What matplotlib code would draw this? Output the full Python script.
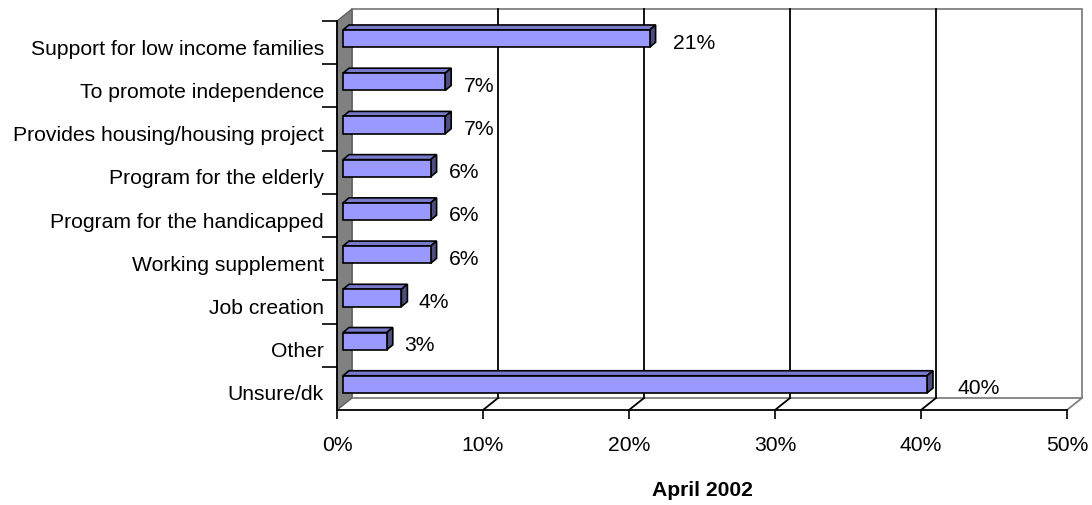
import matplotlib
matplotlib.use("Agg")
import matplotlib.pyplot as plt
from matplotlib.patches import Polygon, Rectangle
from matplotlib.transforms import ScaledTranslation, IdentityTransform

# data, top to bottom as in the chart
categories = ["Support for low income families", "To promote independence",
              "Provides housing/housing project", "Program for the elderly",
              "Program for the handicapped", "Working supplement",
              "Job creation", "Other", "Unsure/dk"]
values = [21, 7, 7, 6, 6, 6, 4, 3, 40]
xticks = [0, 10, 20, 30, 40, 50]
xlabel = "April 2002"

plt.rcParams['font.family'] = ['Liberation Sans', 'DejaVu Sans']
FS = 15.2

fig = plt.figure(figsize=(10.92, 5.06), dpi=100)
ax = fig.add_axes([337/1092, 95/506, 730/1092, 389/506])
n = len(categories)
ypos = list(range(n - 1, -1, -1))
ax.set_xlim(0, 50)
ax.set_ylim(-0.5, n - 0.5)

def shift(dx, dy):
    # offset in pixels (dpi 100) for the 3d depth
    return ax.transData + ScaledTranslation(dx/100, dy/100, fig.dpi_scale_trans)

def disp(tr, x, y, dx=0, dy=0):
    p = tr.transform((x, y))
    return (p[0] + dx, p[1] + dy)

back = shift(15, 12)
ident = IdentityTransform()

# back wall + gridlines
ax.add_patch(Rectangle((0, -0.5), 50, n, transform=back, facecolor='white',
                       edgecolor='#808080', lw=1.3, zorder=0, clip_on=False))
for t in xticks[1:-1]:
    ax.plot([t, t], [-0.5, n - 0.5], transform=back, color='black', lw=1.3,
            zorder=1, clip_on=False)

# left side wall
wall = [disp(ax.transData, 0, -0.5), disp(ax.transData, 0, n - 0.5),
        disp(ax.transData, 0, n - 0.5, 15, 12), disp(ax.transData, 0, -0.5, 15, 12)]
ax.add_patch(Polygon(wall, transform=ident, facecolor='#808080',
                     edgecolor='#606060', lw=1, zorder=1, clip_on=False))

# floor lines
for t in xticks[1:]:
    p0 = disp(ax.transData, t, -0.5)
    p1 = disp(ax.transData, t, -0.5, 15, 12)
    c = 'black' if t < 50 else '#808080'
    ax.plot([p0[0], p1[0]], [p0[1], p1[1]], transform=ident, color=c, lw=1.3,
            zorder=1, clip_on=False)

# bars
bar_tr = shift(6, 4)
h = 0.4
ax.barh(ypos, values, height=h, color='#9999ff', edgecolor='black', lw=1.2,
        transform=bar_tr, zorder=4, clip_on=False)
d = (6, 5)
for y, v in zip(ypos, values):
    a = disp(bar_tr, 0, y + h/2)
    b = disp(bar_tr, v, y + h/2)
    c = disp(bar_tr, v, y - h/2)
    top = [a, b, (b[0] + d[0], b[1] + d[1]), (a[0] + d[0], a[1] + d[1])]
    side = [c, b, (b[0] + d[0], b[1] + d[1]), (c[0] + d[0], c[1] + d[1])]
    ax.add_patch(Polygon(top, transform=ident, facecolor='#7a7acc',
                         edgecolor='black', lw=1.2, zorder=3, clip_on=False))
    ax.add_patch(Polygon(side, transform=ident, facecolor='#4d4d80',
                         edgecolor='black', lw=1.2, zorder=3, clip_on=False))
    ax.text(v*1.025 + 1.1, y - 0.08, f"{v}%", transform=bar_tr, va='center',
            ha='left', fontsize=FS, clip_on=False)

# axes
for s in ['top', 'right']:
    ax.spines[s].set_visible(False)
for s in ['left', 'bottom']:
    ax.spines[s].set_linewidth(1.3)
    ax.spines[s].set_zorder(5)
ax.set_yticks([i + 0.5 for i in range(n)])
ax.set_yticklabels([])
ax.set_yticks(ypos, minor=True)
ax.set_yticklabels(categories, minor=True, fontsize=FS)
ax.tick_params(axis='y', which='major', length=11, width=1.2)
ax.tick_params(axis='y', which='minor', length=0, pad=9.4)
down = ScaledTranslation(0, -0.035, fig.dpi_scale_trans)
for lab in ax.get_yticklabels(minor=True):
    lab.set_transform(lab.get_transform() + down)
ax.set_xticks(xticks)
ax.set_xticklabels([f"{t}%" for t in xticks], fontsize=FS)
ax.tick_params(axis='x', length=6.5, width=1.2, pad=11.5)
ax.set_xlabel(xlabel, fontsize=FS, fontweight='bold', labelpad=19)
ax.set_facecolor('white')

fig.savefig("out.png", dpi=100)
